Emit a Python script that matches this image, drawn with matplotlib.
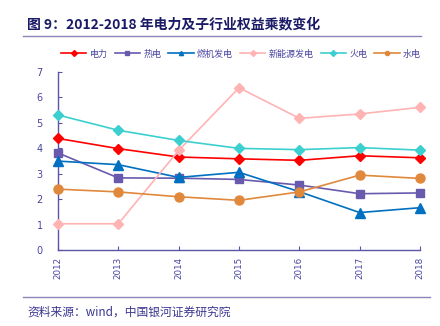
import matplotlib
matplotlib.use("Agg")
import matplotlib.pyplot as plt
from matplotlib.lines import Line2D

plt.rcParams['font.family'] = ['Noto Sans CJK SC', 'DejaVu Sans']

years = ['2012', '2013', '2014', '2015', '2016', '2017', '2018']
dianli = [4.38, 3.98, 3.65, 3.58, 3.52, 3.70, 3.62]
redian = [3.81, 2.83, 2.82, 2.77, 2.55, 2.21, 2.24]
ranji = [3.49, 3.35, 2.85, 3.05, 2.29, 1.47, 1.66]
xinneng = [1.03, 1.03, 3.91, 6.37, 5.17, 5.34, 5.60]
huodian = [5.30, 4.70, 4.30, 3.99, 3.94, 4.02, 3.92]
shuidian = [2.39, 2.28, 2.09, 1.95, 2.28, 2.94, 2.81]

names = ['电力', '热电', '燃机发电', '新能源发电', '火电', '水电']
series = [dianli, redian, ranji, xinneng, huodian, shuidian]
colors = ['#FF0000', '#6A5AAE', '#0070C0', '#FFB3B3', '#3CCFCF', '#E0883C']
markers = ['D', 's', '^', 'D', 'D', 'o']
msizes = [5.5, 5.5, 6.5, 5.5, 5.5, 6.5]

fig = plt.figure(figsize=(4.4, 3.26), dpi=100)
W, H = 440, 326
ax = fig.add_axes([58 / W, 1 - 250 / H, (420 - 58) / W, (250 - 71.7) / H])

x = list(range(len(years)))
for vals, c, m, ms in zip(series, colors, markers, msizes):
    ax.plot(x, vals, color=c, marker=m, markersize=ms, linewidth=1.2,
            clip_on=False, zorder=3)

axc = '#5A55A8'
ax.set_xlim(0, 6)
ax.set_ylim(0, 7)
ax.set_xticks(x)
ax.set_xticklabels(years, rotation=90, fontsize=6.3, color='#4A45A0',
                   family='DejaVu Sans')
ax.set_yticks(range(8))
ax.set_yticklabels([str(i) for i in range(8)], fontsize=7, color='#4A45A0',
                   family='DejaVu Sans')
for s in ['top', 'right']:
    ax.spines[s].set_visible(False)
for s in ['left', 'bottom']:
    ax.spines[s].set_color(axc)
    ax.spines[s].set_linewidth(1.0)
ax.tick_params(axis='both', direction='in', length=3, color=axc, width=0.8)
ax.tick_params(axis='y', pad=11)
ax.tick_params(axis='x', pad=5)

handles = [Line2D([], [], color=c, marker=m, markersize=3, linewidth=1.2)
           for c, m in zip(colors, markers)]
leg = fig.legend(handles, names, loc='center', bbox_to_anchor=(241 / W, 1 - 54 / H),
                 ncol=6, frameon=False, fontsize=6.5, handlelength=2.8,
                 handletextpad=0.35, columnspacing=0.8)
for t in leg.get_texts():
    t.set_color('#4A45A0')

fig.text(27 / W, 1 - 24 / H, '图 9：2012-2018 年电力及子行业权益乘数变化',
         fontsize=10, fontweight='bold', color='#1A1A66', va='center', ha='left')
fig.add_artist(Line2D([23 / W, 421 / W], [1 - 36 / H, 1 - 36 / H],
                      color='#8A86B8', linewidth=1.0))
fig.add_artist(Line2D([23 / W, 430 / W], [1 - 297 / H, 1 - 297 / H],
                      color='#8A86B8', linewidth=1.0))
fig.text(27 / W, 1 - 312 / H, '资料来源：wind，中国银河证券研究院',
         fontsize=8.5, style='italic', color='#3A3590', va='center', ha='left')

fig.savefig('out.png', dpi=100)
